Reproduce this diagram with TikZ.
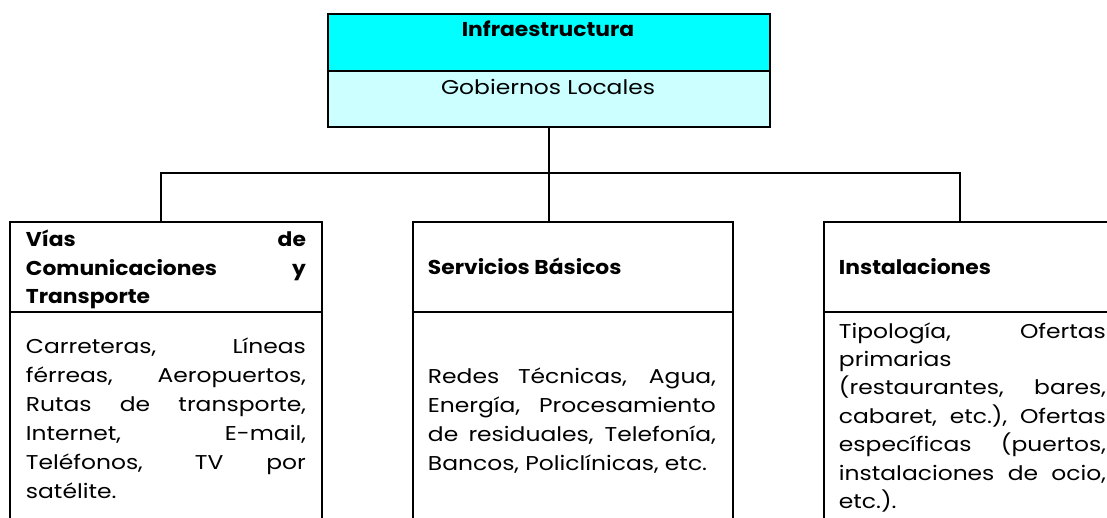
\documentclass[tikz,border=0pt]{standalone}
\usepackage{fontspec}
\setmainfont{Poppins}[UprightFeatures={FakeStretch=1.17},BoldFeatures={FakeStretch=1.09}]
\definecolor{topcyan}{HTML}{00FFFF}
\definecolor{subcyan}{HTML}{CCFFFF}
\newcommand\jline[2]{\makebox[#1][s]{#2}}
\begin{document}
\begin{tikzpicture}[x=1pt,y=-1pt,line width=1.9pt,
  box/.style={draw,rectangle,inner sep=0pt,anchor=north west},
  txt/.style={inner sep=0pt,anchor=base west,align=left,font=\fontsize{20}{29}\selectfont},
  btxt/.style={txt,font=\fontsize{20}{29}\selectfont\bfseries},
  ctxt/.style={inner sep=0pt,anchor=base,font=\fontsize{20}{29}\selectfont},
  conn/.style={draw,line width=1.9pt}]
\path[use as bounding box,clip] (0,0) rectangle (1107,518);
% top boxes
\node[box,fill=topcyan,minimum width=442pt,minimum height=57pt] (top) at (327,13) {};
\node[box,fill=subcyan,minimum width=442pt,minimum height=56pt] (sub) at (327,70) {};
\node[ctxt,font=\fontsize{20}{29}\selectfont\bfseries] (ttop) at (548,37) {Infraestructura};
\node[ctxt] (tsub) at (548,95) {Gobiernos Locales};
% child boxes
\node[box,minimum width=312pt,minimum height=90pt] (h1) at (9,221) {};
\node[box,minimum width=312pt,minimum height=232pt] (b1) at (9,311) {};
\node[box,minimum width=320pt,minimum height=90pt] (h2) at (412,221) {};
\node[box,minimum width=320pt,minimum height=232pt] (b2) at (412,311) {};
\node[box,minimum width=300pt,minimum height=90pt] (h3) at (823,221) {};
\node[box,minimum width=300pt,minimum height=232pt] (b3) at (823,311) {};
% connectors
\coordinate (bl) at (161,173);
\coordinate (br) at (960,173);
\coordinate (bm) at (sub.south |- bl);
\draw[conn] (sub.south) -- (bm);
\draw[conn] (h1.north -| bl) -- (bl) -- (br) -- (h3.north -| br);
\draw[conn] (bm) -- (h2.north -| bm);
% texts (anchored at the baseline of the last line)
\node[btxt] (th1) at (25,304)
  {\jline{280pt}{Vías de}\\\jline{280pt}{Comunicaciones y}\\Transporte};
\node[txt] (tb1) at (25,498)
  {\jline{280pt}{Carreteras, Líneas}\\
   \jline{280pt}{férreas, Aeropuertos,}\\
   \jline{280pt}{Rutas de transporte,}\\
   \jline{280pt}{Internet, E-mail,}\\
   \jline{280pt}{Teléfonos, TV por}\\
   satélite.};
\node[btxt] (th2) at (427,275) {Servicios Básicos};
\node[txt] (tb2) at (427,470)
  {\jline{288pt}{Redes Técnicas, Agua,}\\
   \jline{288pt}{Energía, Procesamiento}\\
   \jline{288pt}{de residuales, Telefonía,}\\
   Bancos, Policlínicas, etc.};
\node[btxt] (th3) at (838,275) {Instalaciones};
\node[txt,font=\fontsize{20}{28.4}\selectfont] (tb3) at (838,508.4)
  {\jline{267pt}{Tipología, Ofertas}\\
   primarias\\
   \jline{267pt}{(restaurantes, bares,}\\
   \jline{267pt}{cabaret, etc.), Ofertas}\\
   \jline{267pt}{específicas (puertos,}\\
   \jline{267pt}{instalaciones de ocio,}\\
   etc.).};
\end{tikzpicture}
\end{document}
